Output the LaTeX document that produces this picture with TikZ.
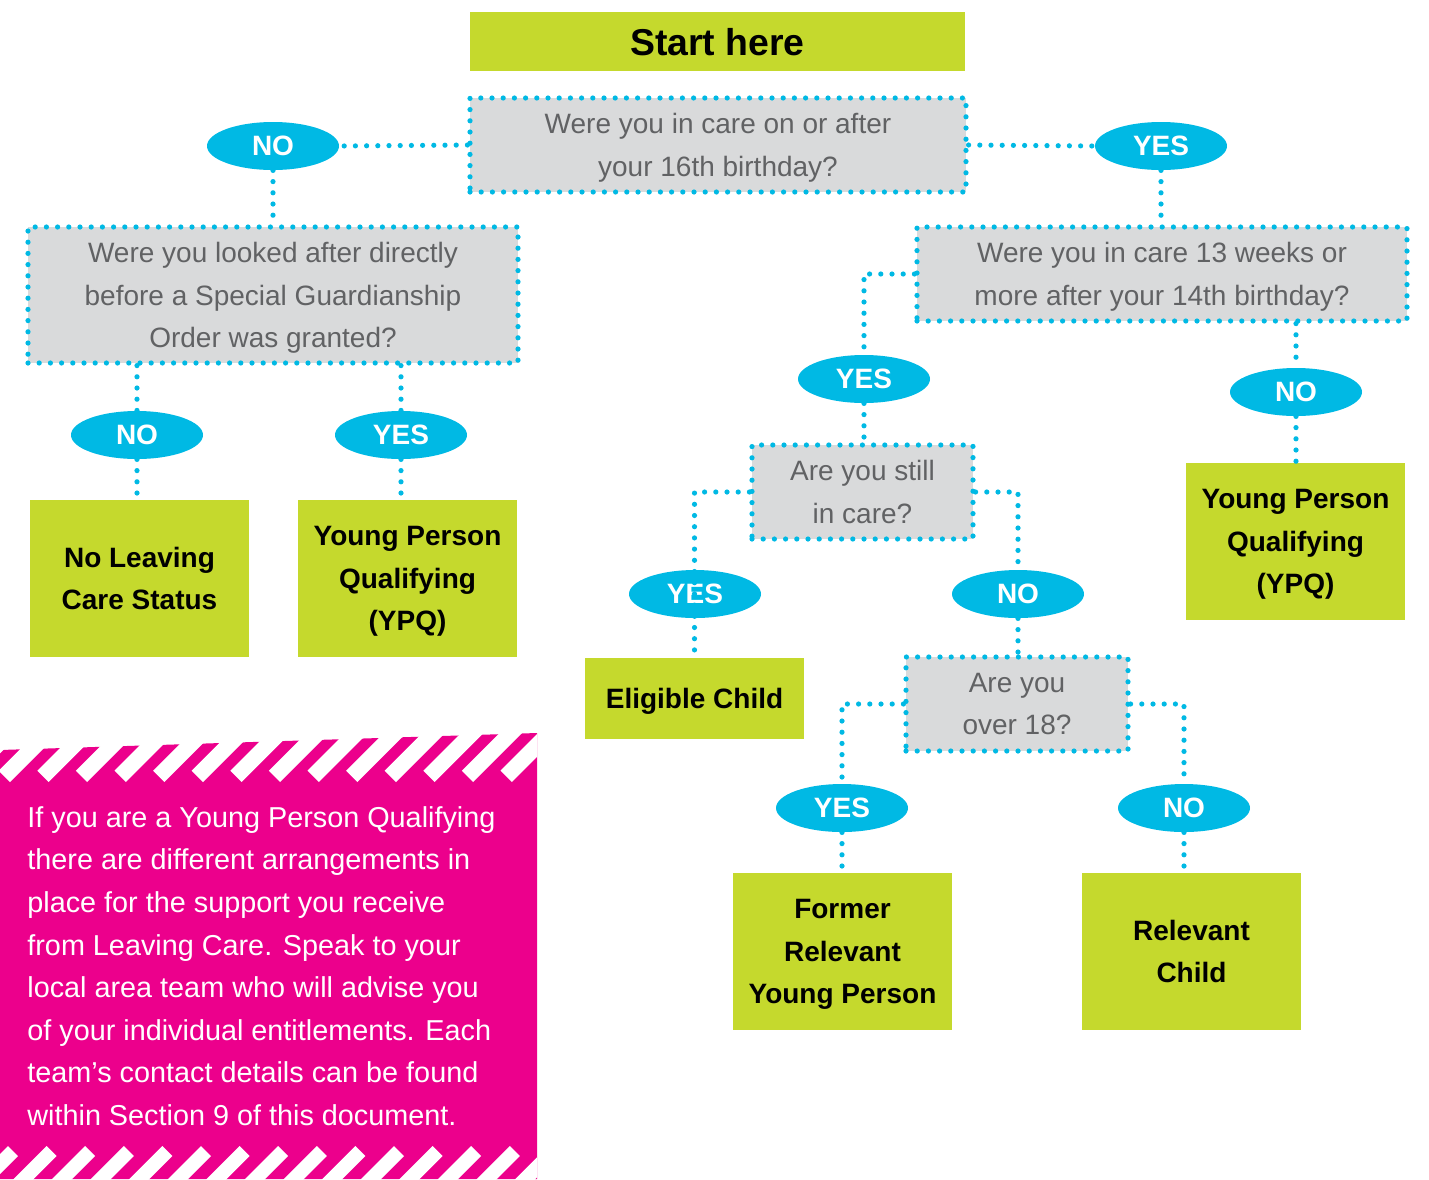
\documentclass[tikz,border=0pt]{standalone}
\usepackage{fontspec}
\setmainfont{Liberation Sans}
\usetikzlibrary{shapes.geometric}
\definecolor{lime}{HTML}{C5D92D}
\definecolor{cyanb}{HTML}{00B9E4}
\definecolor{greyq}{HTML}{D9DADB}
\definecolor{greyt}{HTML}{616264}
\definecolor{pinkb}{HTML}{EC008C}
\begin{document}
\begin{tikzpicture}[x=0.5pt,y=-0.5pt,
 dotline/.style={draw=cyanb, line width=2.6pt, line cap=round, dash pattern=on 0pt off 5.6pt},
 qbox/.style={rectangle, fill=greyq, dotline, text=greyt, align=center, font=\fontsize{14}{21.3}\selectfont, inner sep=0pt, text depth=-1pt},
 gbox/.style={rectangle, fill=lime, align=center, font=\fontsize{14}{21.3}\selectfont\bfseries, inner sep=0pt, text=black, text depth=-1pt},
 lab/.style={ellipse, fill=cyanb, text=white, font=\fontsize{14}{16}\selectfont\bfseries, minimum width=66pt, minimum height=24pt, inner sep=0pt},
]
\useasboundingbox (0,0) rectangle (1429,1179);

% pink panel
\begin{scope}
\clip (0,700) rectangle (537,1179);
\fill[pinkb] (0,750) -- (537,733) -- (537,1179) -- (0,1179) -- cycle;
\foreach \i in {-1,...,14} {
  \fill[white] ({10+38.6*\i},782) -- ++(-11.3,-11.3) -- ++(60,-60) -- ++(11.3,11.3) -- cycle;
  \fill[white] ({8+38.6*\i},1146) -- ++(10,10) -- ++(-50,50) -- ++(-10,-10) -- cycle;
}
\end{scope}
\node[anchor=west, text=white, align=left, font=\fontsize{14.4}{21.3}\selectfont, inner sep=0pt] (ptext) at (27,966) {If you are a Young Person Qualifying\\there are different arrangements in\\place for the support you receive\\from Leaving Care. Speak to your\\local area team who will advise you\\of your individual entitlements. Each\\team’s contact details can be found\\within Section 9 of this document.};

% boxes
\node[gbox, minimum width=247.5pt, minimum height=29.5pt, font=\fontsize{18.7}{20}\selectfont\bfseries, text depth=-2pt] (start) at (717.5,41.5) {Start here};
\node[qbox, minimum width=248pt, minimum height=47pt] (q1) at (718,145) {Were you in care on or after\\your 16th birthday?};
\node[qbox, minimum width=245pt, minimum height=68pt] (q2) at (273,295) {Were you looked after directly\\before a Special Guardianship\\Order was granted?};
\node[qbox, minimum width=245pt, minimum height=47pt] (q3) at (1162,274) {Were you in care 13 weeks or\\more after your 14th birthday?};
\node[qbox, minimum width=110.5pt, minimum height=47pt] (q4) at (862.5,492) {Are you still\\in care?};
\node[qbox, minimum width=111pt, minimum height=47pt] (q5) at (1017,704) {Are you\\over 18?};

\node[gbox, minimum width=109.5pt, minimum height=78.5pt] (g1) at (139.5,578.5) {No Leaving\\Care Status};
\node[gbox, minimum width=109.5pt, minimum height=78.5pt] (g2) at (407.5,578.5) {Young Person\\Qualifying\\(YPQ)};
\node[gbox, minimum width=109.5pt, minimum height=78.5pt] (g3) at (1295.5,541.5) {Young Person\\Qualifying\\(YPQ)};
\node[gbox, minimum width=109.5pt, minimum height=40.5pt] (g4) at (694.5,698.5) {Eligible Child};
\node[gbox, minimum width=109.5pt, minimum height=78.5pt] (g5) at (842.5,951.5) {Former\\Relevant\\Young Person};
\node[gbox, minimum width=109.5pt, minimum height=78.5pt] (g6) at (1191.5,951.5) {Relevant\\Child};

% labels
\node[lab] (e1) at (273,146) {NO};
\node[lab] (e2) at (1161,146) {YES};
\node[lab] (e3) at (137,435) {NO};
\node[lab] (e4) at (401,435) {YES};
\node[lab] (e5) at (864,379) {YES};
\node[lab] (e6) at (1296,392) {NO};
\node[lab] (e7) at (695,594) {YES};
\node[lab] (e8) at (1018,594) {NO};
\node[lab] (e9) at (842,808) {YES};
\node[lab] (e10) at (1184,808) {NO};

% connectors
\draw[dotline] (q1.west) -- (e1.east);
\draw[dotline] (q1.east) -- (e2.west);
\draw[dotline] (e1.south) -- (e1.south |- q2.north);
\draw[dotline] (e2.south) -- (e2.south |- q3.north);
\draw[dotline] (e3.north |- q2.south) -- (e3.north);
\draw[dotline] (e3.south) -- (e3.south |- g1.north);
\draw[dotline] (e4.north |- q2.south) -- (e4.north);
\draw[dotline] (e4.south) -- (e4.south |- g2.north);
\draw[dotline] (q3.west) -| (e5.north);
\draw[dotline] (e5.south) -- (e5.south |- q4.north);
\draw[dotline] (e6.north |- q3.south) -- (e6.north);
\draw[dotline] (e6.south) -- (e6.south |- g3.north);
\draw[dotline] (q4.west) -| (g4.north);
\draw[dotline] (q4.east) -| (e8.north);
\draw[dotline] (e8.south) -- (e8.south |- q5.north);
\draw[dotline] (q5.west) -| (e9.north);
\draw[dotline] (e9.south) -- (e9.south |- g5.north);
\draw[dotline] (q5.east) -| (e10.north);
\draw[dotline] (e10.south) -- (e10.south |- g6.north);
\end{tikzpicture}
\end{document}
